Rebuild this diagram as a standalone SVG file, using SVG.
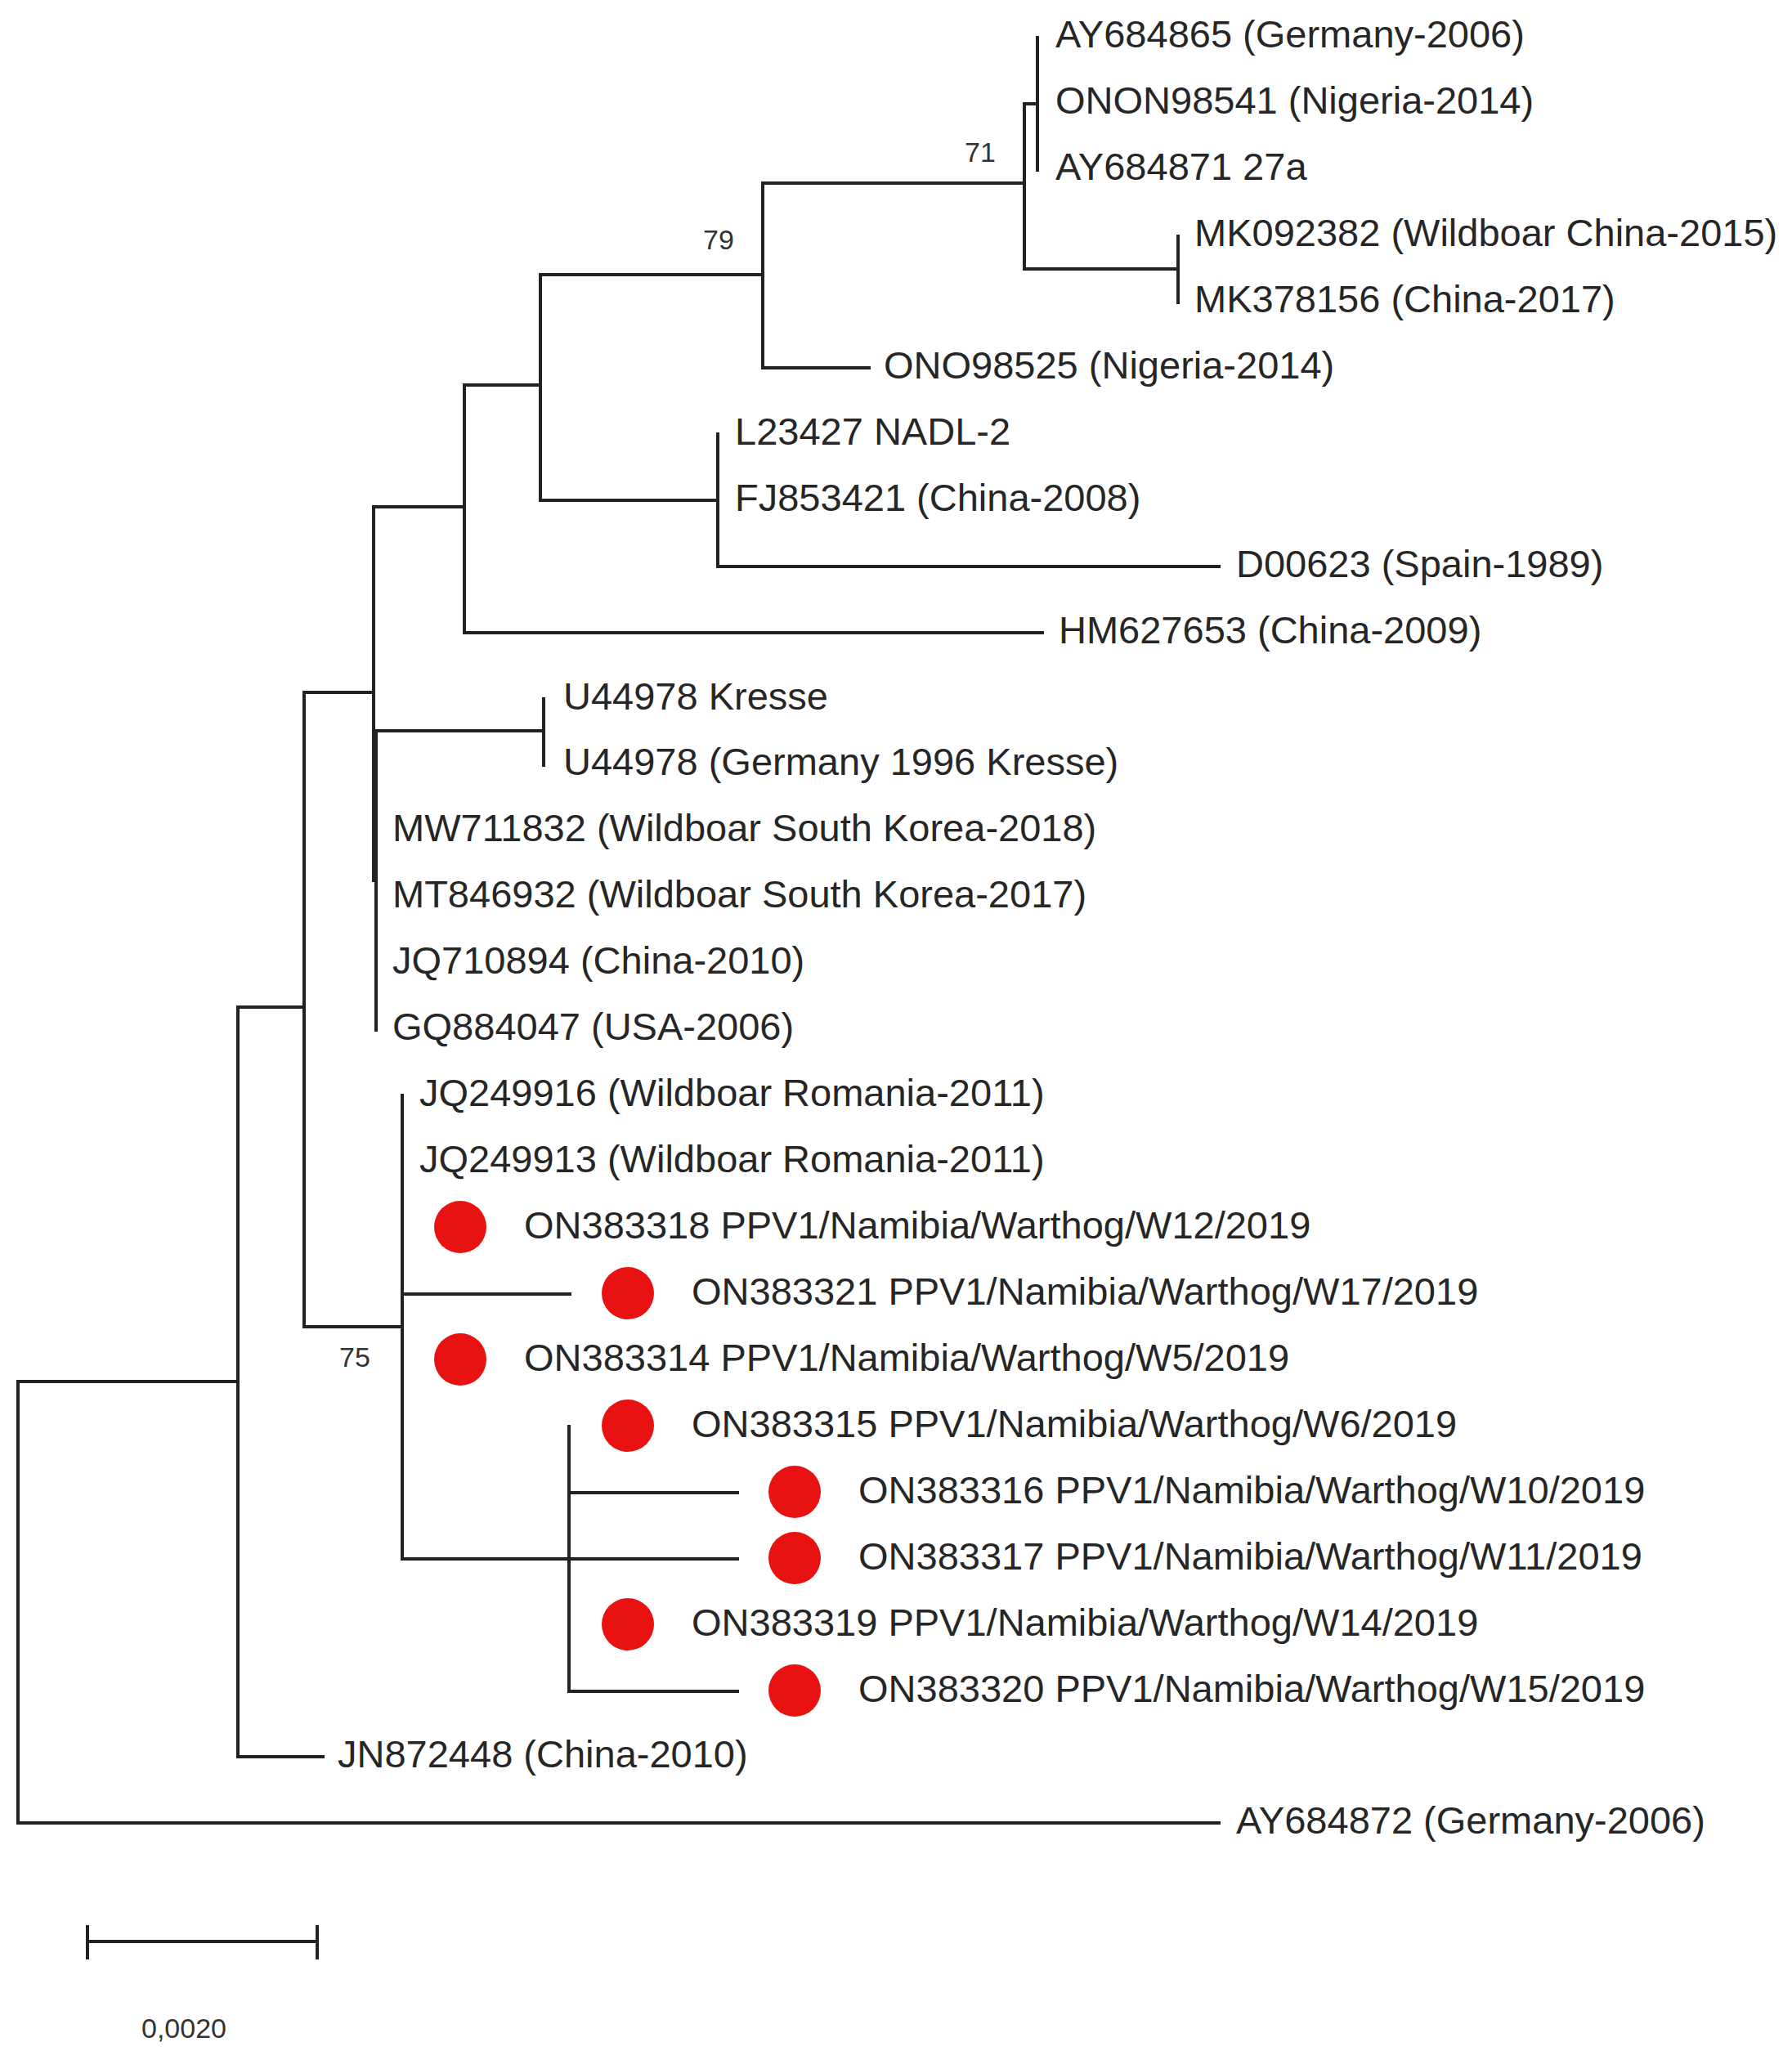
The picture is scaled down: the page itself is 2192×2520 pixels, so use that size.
<svg xmlns="http://www.w3.org/2000/svg" width="2192" height="2520" viewBox="0 0 2192 2520">
<style>
.b{stroke:#222;stroke-width:4;fill:none;stroke-linecap:square}
.t{font-family:"Liberation Sans",Arial,sans-serif;font-size:47px;fill:#262626}
.s{font-family:"Liberation Sans",Arial,sans-serif;font-size:34px;fill:#333}
.d{fill:#e81212}
</style>
<rect width="2192" height="2520" fill="#fff"/>
<g id="connectors">
<path class="b" d="M1269,46V208M1253,127H1269M1253,127V329M1253,329H1441M1441,289V370"/>
<path class="b" d="M933,224H1253M933,224V450M933,450H1063M661,336H933"/>
<path class="b" d="M878,531V693M878,693H1491M661,612H878M661,336V612"/>
<path class="b" d="M568,471H661M568,471V774M568,774H1275"/>
<path class="b" d="M457,620H568M457,620V1077M460,894V1260M457,894H665M665,855V936"/>
<path class="b" d="M372,847H457M372,847V1623M372,1623H492"/>
<path class="b" d="M492,1340V1907M492,1583H697M492,1907H902"/>
<path class="b" d="M696,1745V2069M696,1826H902M696,2069H902"/>
<path class="b" d="M291,1232H372M291,1232V2149M291,2149H395"/>
<path class="b" d="M22,1690H291M22,1690V2230M22,2230H1491"/>
</g>
<g id="n-AY684865"><text class="t" x="1291" y="58">AY684865 (Germany-2006)</text></g>
<g id="n-ONON98541"><text class="t" x="1291" y="139">ONON98541 (Nigeria-2014)</text></g>
<g id="n-AY684871"><text class="t" x="1291" y="220">AY684871 27a</text></g>
<g id="n-MK092382"><text class="t" x="1461" y="301">MK092382 (Wildboar China-2015)</text></g>
<g id="n-MK378156"><text class="t" x="1461" y="382">MK378156 (China-2017)</text></g>
<g id="n-ONO98525"><text class="t" x="1081" y="463">ONO98525 (Nigeria-2014)</text></g>
<g id="n-L23427"><text class="t" x="899" y="544">L23427 NADL-2</text></g>
<g id="n-FJ853421"><text class="t" x="899" y="625">FJ853421 (China-2008)</text></g>
<g id="n-D00623"><text class="t" x="1512" y="706">D00623 (Spain-1989)</text></g>
<g id="n-HM627653"><text class="t" x="1295" y="787">HM627653 (China-2009)</text></g>
<g id="n-U44978a"><text class="t" x="689" y="868">U44978 Kresse</text></g>
<g id="n-U44978b"><text class="t" x="689" y="948">U44978 (Germany 1996 Kresse)</text></g>
<g id="n-MW711832"><text class="t" x="480" y="1029">MW711832 (Wildboar South Korea-2018)</text></g>
<g id="n-MT846932"><text class="t" x="480" y="1110">MT846932 (Wildboar South Korea-2017)</text></g>
<g id="n-JQ710894"><text class="t" x="480" y="1191">JQ710894 (China-2010)</text></g>
<g id="n-GQ884047"><text class="t" x="480" y="1272">GQ884047 (USA-2006)</text></g>
<g id="n-JQ249916"><text class="t" x="513" y="1353">JQ249916 (Wildboar Romania-2011)</text></g>
<g id="n-JQ249913"><text class="t" x="513" y="1434">JQ249913 (Wildboar Romania-2011)</text></g>
<g id="n-ON383318"><circle class="d" cx="563" cy="1501" r="32"/><text class="t" x="641" y="1515">ON383318 PPV1/Namibia/Warthog/W12/2019</text></g>
<g id="n-ON383321"><circle class="d" cx="768" cy="1582" r="32"/><text class="t" x="846" y="1596">ON383321 PPV1/Namibia/Warthog/W17/2019</text></g>
<g id="n-ON383314"><circle class="d" cx="563" cy="1663" r="32"/><text class="t" x="641" y="1677">ON383314 PPV1/Namibia/Warthog/W5/2019</text></g>
<g id="n-ON383315"><circle class="d" cx="768" cy="1744" r="32"/><text class="t" x="846" y="1758">ON383315 PPV1/Namibia/Warthog/W6/2019</text></g>
<g id="n-ON383316"><circle class="d" cx="972" cy="1825" r="32"/><text class="t" x="1050" y="1839">ON383316 PPV1/Namibia/Warthog/W10/2019</text></g>
<g id="n-ON383317"><circle class="d" cx="972" cy="1906" r="32"/><text class="t" x="1050" y="1920">ON383317 PPV1/Namibia/Warthog/W11/2019</text></g>
<g id="n-ON383319"><circle class="d" cx="768" cy="1987" r="32"/><text class="t" x="846" y="2001">ON383319 PPV1/Namibia/Warthog/W14/2019</text></g>
<g id="n-ON383320"><circle class="d" cx="972" cy="2068" r="32"/><text class="t" x="1050" y="2082">ON383320 PPV1/Namibia/Warthog/W15/2019</text></g>
<g id="n-JN872448"><text class="t" x="413" y="2162">JN872448 (China-2010)</text></g>
<g id="n-AY684872"><text class="t" x="1512" y="2243">AY684872 (Germany-2006)</text></g>
<g id="bootstrap">
<text class="s" x="1180" y="198">71</text>
<text class="s" x="860" y="305">79</text>
<text class="s" x="415" y="1672">75</text>
</g>
<g id="scale">
<path class="b" d="M107,2375H388M107,2357V2395M388,2357V2395"/>
<text class="s" x="173" y="2493">0,0020</text>
</g>
</svg>
